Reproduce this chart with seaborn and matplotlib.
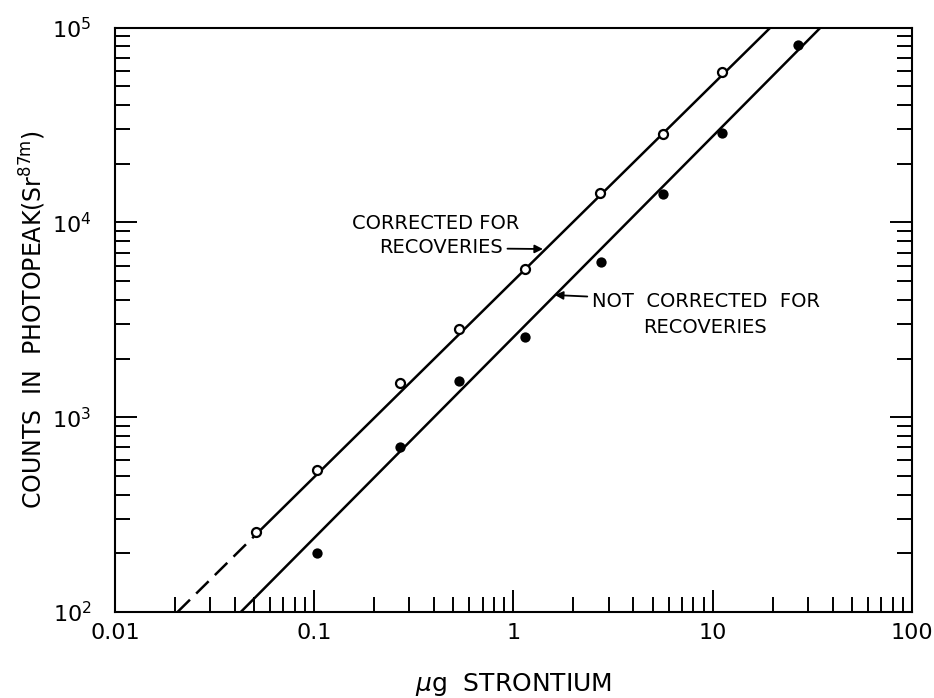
import matplotlib
matplotlib.use("Agg")
import matplotlib.pyplot as plt
from matplotlib.ticker import LogLocator, NullFormatter
import seaborn as sns

# measured points (ug Sr vs counts in photopeak)
mass_corr = [0.051, 0.103, 0.27, 0.53, 1.14, 2.72, 5.6, 11.1]
counts_corr = [257, 535, 1500, 2830, 5740, 14100, 28400, 59400]
mass_raw = [0.103, 0.27, 0.53, 1.14, 2.76, 5.6, 11.1, 26.9]
counts_raw = [201, 706, 1530, 2590, 6240, 14000, 28600, 81500]

# fitted lines
fit_corr_dash_x = [0.0206, 0.051]
fit_corr_dash_y = [100, 250]
fit_corr_x = [0.051, 19.5]
fit_corr_y = [250, 100000]
fit_raw_x = [0.0428, 34.8]
fit_raw_y = [100, 100000]

x_ticks = [0.01, 0.1, 1, 10, 100]
x_tick_labels = ["0.01", "0.1", "1", "10", "100"]
y_ticks = [1e2, 1e3, 1e4, 1e5]
y_tick_labels = [r"$\mathregular{10^2}$", r"$\mathregular{10^3}$",
                 r"$\mathregular{10^4}$", r"$\mathregular{10^5}$"]

sns.set_style("ticks")
plt.rcParams["font.family"] = ["DejaVu Sans"]
plt.rcParams["text.color"] = "black"
plt.rcParams["axes.labelcolor"] = "black"

fig = plt.figure(figsize=(9.34, 6.98), dpi=100)
ax = fig.add_axes([0.1231, 0.1232, 0.8533, 0.8374])

sns.lineplot(x=fit_corr_dash_x, y=fit_corr_dash_y, ax=ax, color="black", lw=1.8,
             linestyle=(0, (7, 3.5)), estimator=None, sort=False)
sns.lineplot(x=fit_corr_x, y=fit_corr_y, ax=ax, color="black", lw=1.8,
             estimator=None, sort=False)
sns.lineplot(x=fit_raw_x, y=fit_raw_y, ax=ax, color="black", lw=1.8,
             estimator=None, sort=False)

sns.scatterplot(x=mass_corr, y=counts_corr, ax=ax, marker="o", s=42,
                facecolor="white", edgecolor="black", linewidth=1.6, zorder=5)
sns.scatterplot(x=mass_raw, y=counts_raw, ax=ax, marker="o", s=55,
                color="black", edgecolor="black", linewidth=0, zorder=5)

ax.set_xscale("log")
ax.set_yscale("log")
ax.set_xlim(0.01, 100)
ax.set_ylim(100, 100000)

ax.set_xticks(x_ticks, x_tick_labels)
ax.set_yticks(y_ticks, y_tick_labels)
ax.xaxis.set_minor_locator(LogLocator(base=10, subs=range(2, 10), numticks=20))
ax.yaxis.set_minor_locator(LogLocator(base=10, subs=range(2, 10), numticks=20))
ax.xaxis.set_minor_formatter(NullFormatter())
ax.yaxis.set_minor_formatter(NullFormatter())

ax.tick_params(which="both", direction="in", top=False, right=True,
               width=1.4, color="black", labelsize=16, labelcolor="black")
ax.tick_params(which="major", length=16)
ax.tick_params(which="minor", length=10.5)
ax.tick_params(axis="x", which="major", pad=8)
ax.tick_params(axis="y", which="major", pad=17)

for sp in ax.spines.values():
    sp.set_linewidth(1.5)
    sp.set_color("black")

ax.set_xlabel(r"$\mu$g  STRONTIUM", fontsize=18, labelpad=20)
ax.set_ylabel(r"COUNTS  IN  PHOTOPEAK(Sr$^{\mathregular{87m}}$)", fontsize=17, labelpad=3)

arrow = dict(arrowstyle="-|>", color="black", lw=1.3, mutation_scale=12,
             shrinkA=1, shrinkB=0)
ax.text(0.403, 0.6655, "CORRECTED FOR", transform=ax.transAxes,
        ha="center", va="center", fontsize=14)
ax.annotate("RECOVERIES", xy=(0.537, 0.621), xycoords="axes fraction",
            xytext=(0.409, 0.6228), textcoords="axes fraction",
            ha="center", va="center", fontsize=14, arrowprops=arrow)
ax.annotate("NOT  CORRECTED  FOR", xy=(0.552, 0.5423), xycoords="axes fraction",
            xytext=(0.7415, 0.5304), textcoords="axes fraction",
            ha="center", va="center", fontsize=14, arrowprops=arrow)
ax.text(0.7397, 0.4876, "RECOVERIES", transform=ax.transAxes,
        ha="center", va="center", fontsize=14)

fig.savefig("out.png", dpi=100)
